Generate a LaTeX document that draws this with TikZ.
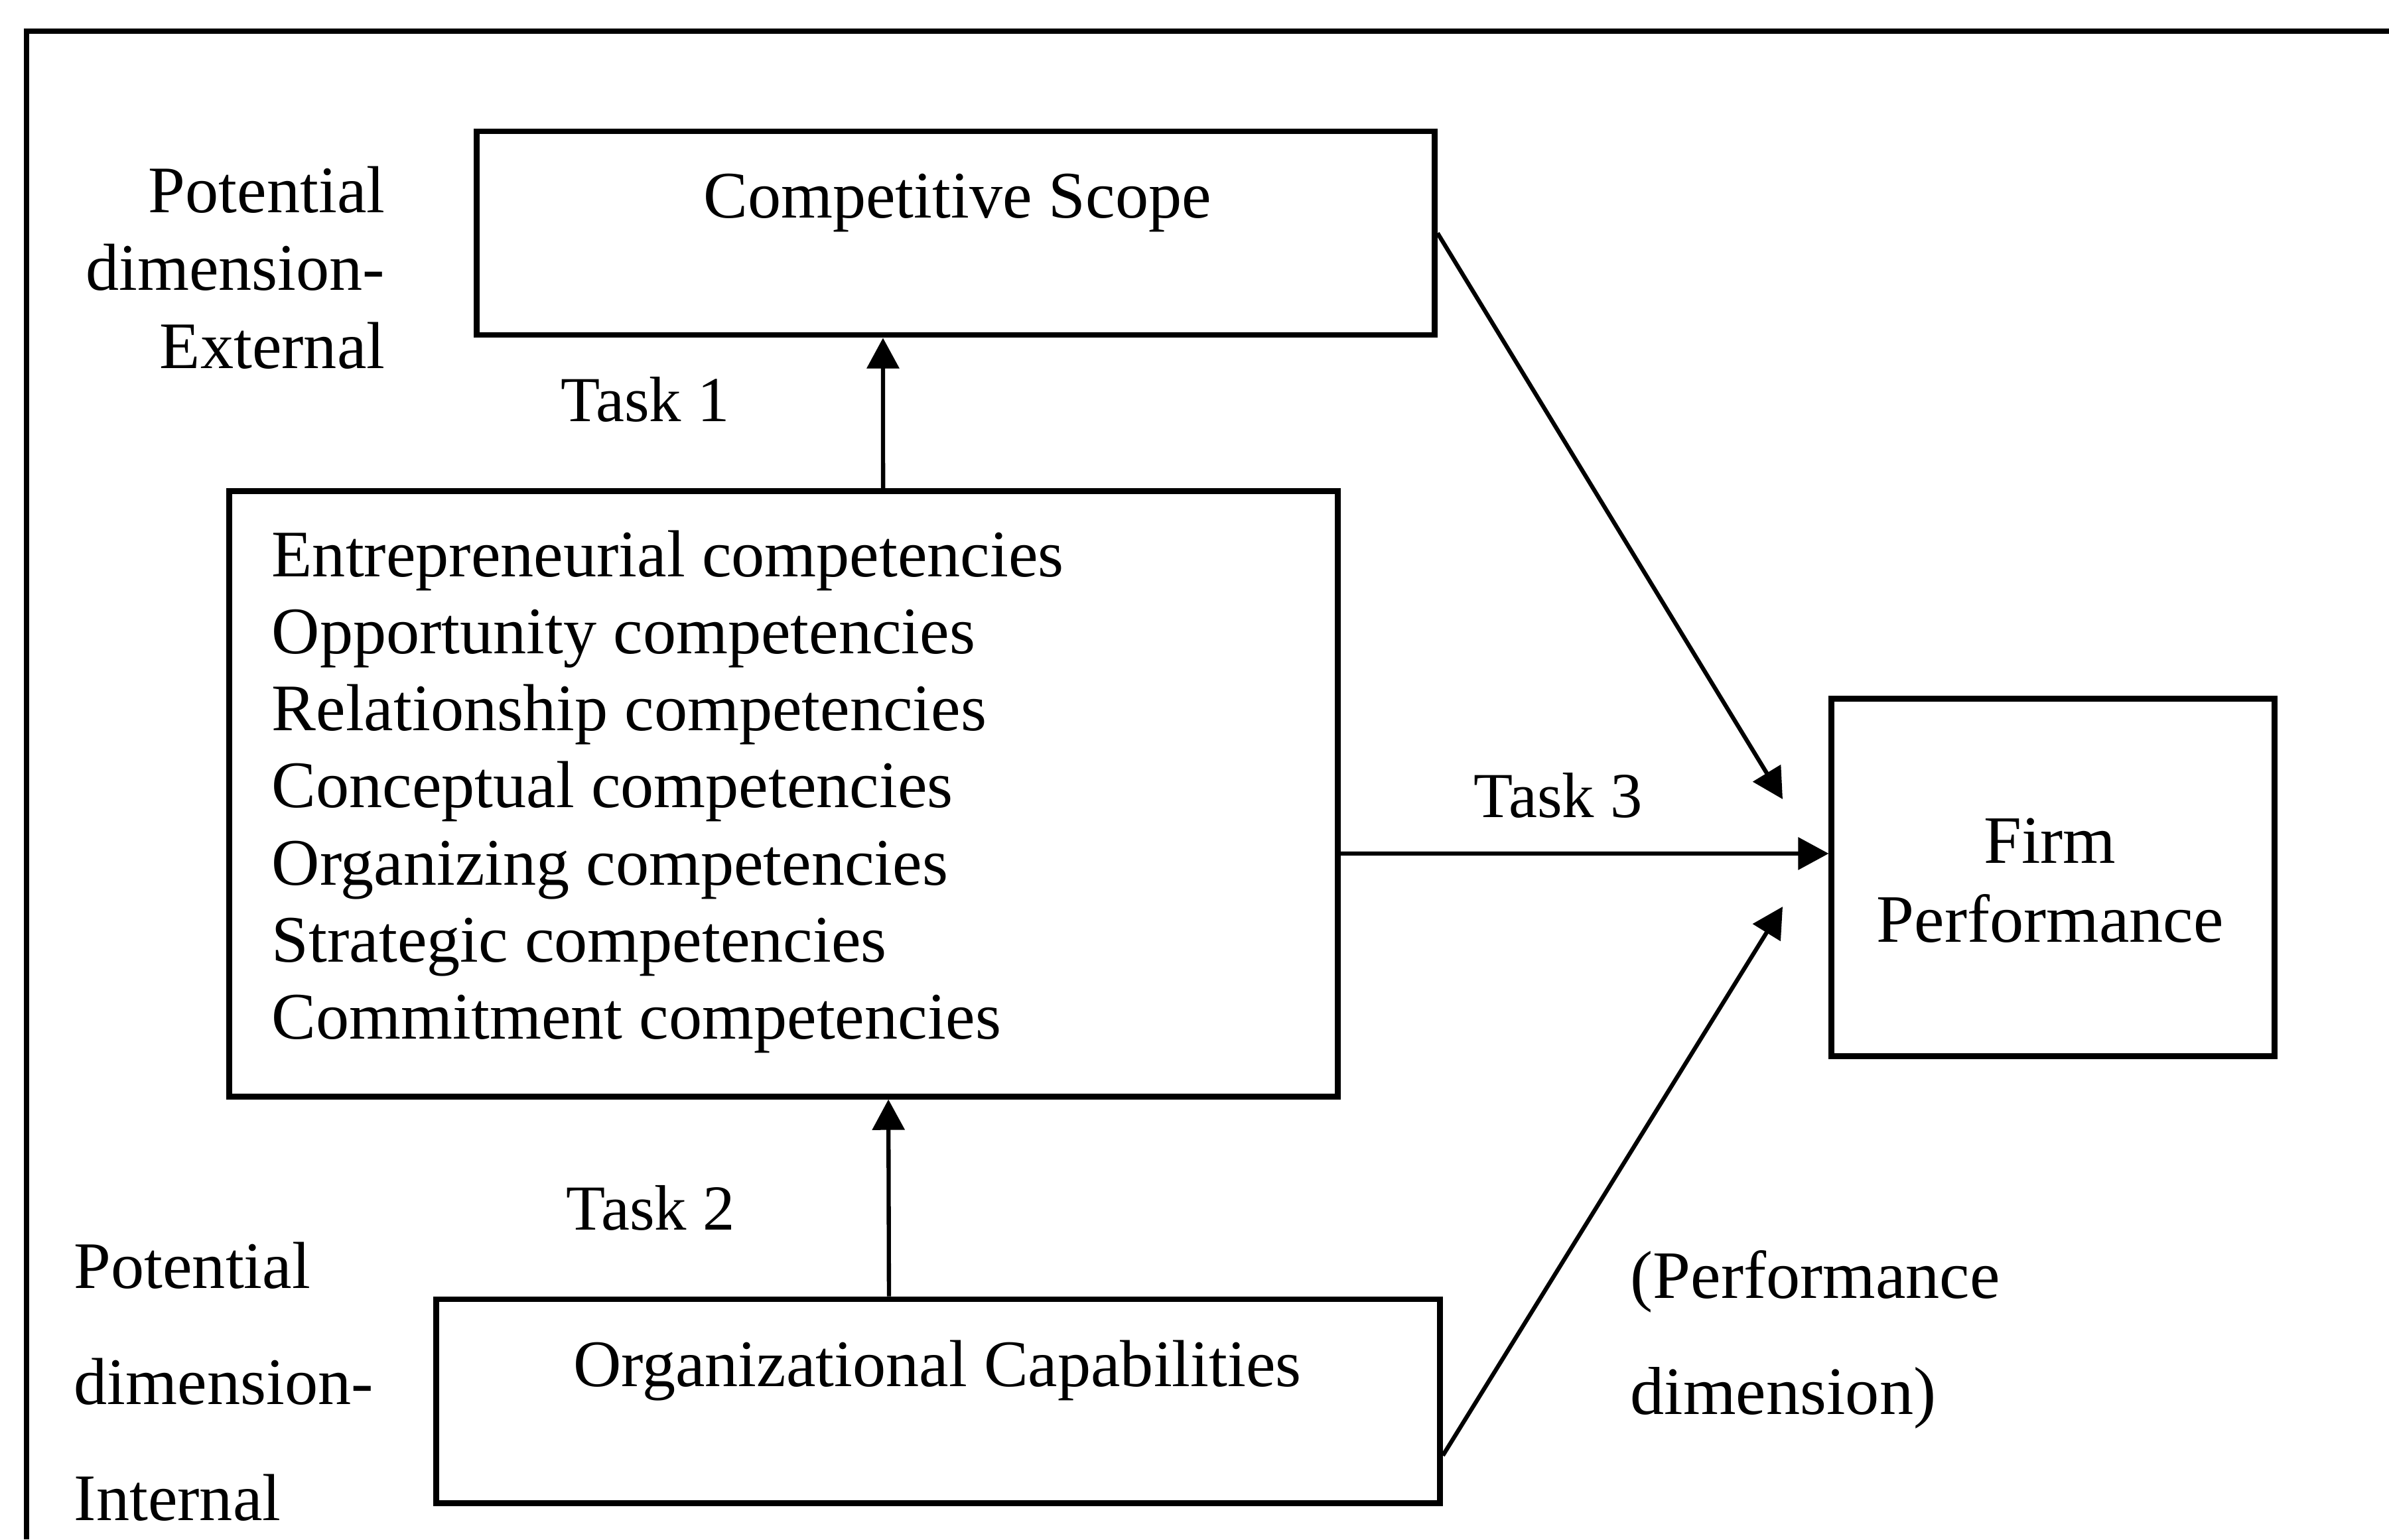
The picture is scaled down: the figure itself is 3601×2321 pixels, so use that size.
\documentclass[tikz,border=0pt]{standalone}
\usepackage{fontspec}
\setmainfont{Liberation Serif}
\usetikzlibrary{arrows.meta,positioning,calc}
\tikzset{txt/.style={font=\fontsize{28.5}{33}\selectfont,inner sep=0pt},bigtxt/.style={font=\fontsize{29.1}{36}\selectfont,inner sep=0pt}}

\begin{document}
\begin{tikzpicture}[x=0.01cm,y=-0.01cm,>={Triangle[length=4.6mm,width=4.8mm]}]

\tikzset{box/.style={draw,line width=2.5pt,inner sep=0pt,shape=rectangle},
arrow/.style={->,line width=1.8pt},
tasktxt/.style={font=\fontsize{27.5}{33}\selectfont,inner sep=0pt}}

\useasboundingbox (0,0) rectangle (3601,2321);

% Frame
\draw[line width=2.5pt] (3601,47) -- (40,47) -- (40,2321);

% Boxes
\node[box,minimum width=14.43cm,minimum height=3.07cm] (scope) at (1440.5,351.5) {};
\node[box,minimum width=16.70cm,minimum height=9.12cm] (main) at (1181,1197) {};
\node[box,minimum width=6.67cm,minimum height=5.38cm] (perf) at (3094.5,1323) {};
\node[box,minimum width=15.12cm,minimum height=3.07cm] (org) at (1414,2112.5) {};

% Box texts
\node[txt,anchor=base] (scopeText) at (1443,328) {Competitive Scope};
\node[txt,anchor=base] (orgText) at (1413,2090) {Organizational Capabilities};
\node[bigtxt,anchor=base] (perf1) at (3090,1301) {Firm};
\node[bigtxt,anchor=base] (perf2) at (3090,1420) {Performance};
\foreach \comp [count=\i from 0] in {Entrepreneurial,Opportunity,Relationship,Conceptual,Organizing,Strategic,Commitment}
  \node[txt,anchor=base west] (comp\i) at (409,{869+116.3*\i}) {\comp{} competencies};

% Dimension labels
\foreach \t [count=\i from 0] in {Potential,dimension-,External} \node[txt,anchor=base east] (ext\i) at (581,{320+117.5*\i}) {\t};
\foreach \t [count=\i from 0] in {Potential,dimension-,Internal} \node[txt,anchor=base west] (int\i) at (111,{1942+175*\i}) {\t};
\node[bigtxt,anchor=base west] (pd0) at (2457,1957) {(Performance};
\node[bigtxt,anchor=base west] (pd1) at (2457,2132) {dimension)};

% Tasks
\node[tasktxt,anchor=base west] (task1) at (845,635) {Task 1};
\node[tasktxt,anchor=base west] (task2) at (853,1854) {Task 2};
\node[tasktxt,anchor=base west] (task3) at (2221,1232) {Task 3};

% Arrows
\draw[arrow] ([xshift=1.50cm]main.north) -- ([xshift=-1.095cm]scope.south);
\draw[arrow] ([xshift=-0.74cm]org.north) -- ([xshift=1.58cm]main.south);
\draw[arrow] ([yshift=-0.9cm]main.east) -- ([yshift=0.36cm]perf.west);

\coordinate (fpTop) at (2687,1205);
\coordinate (fpBot) at (2687,1367);
\draw[arrow] (scope.east) -- (fpTop);
\draw[arrow] ([yshift=-0.82cm]org.east) -- (fpBot);

\end{tikzpicture}
\end{document}
